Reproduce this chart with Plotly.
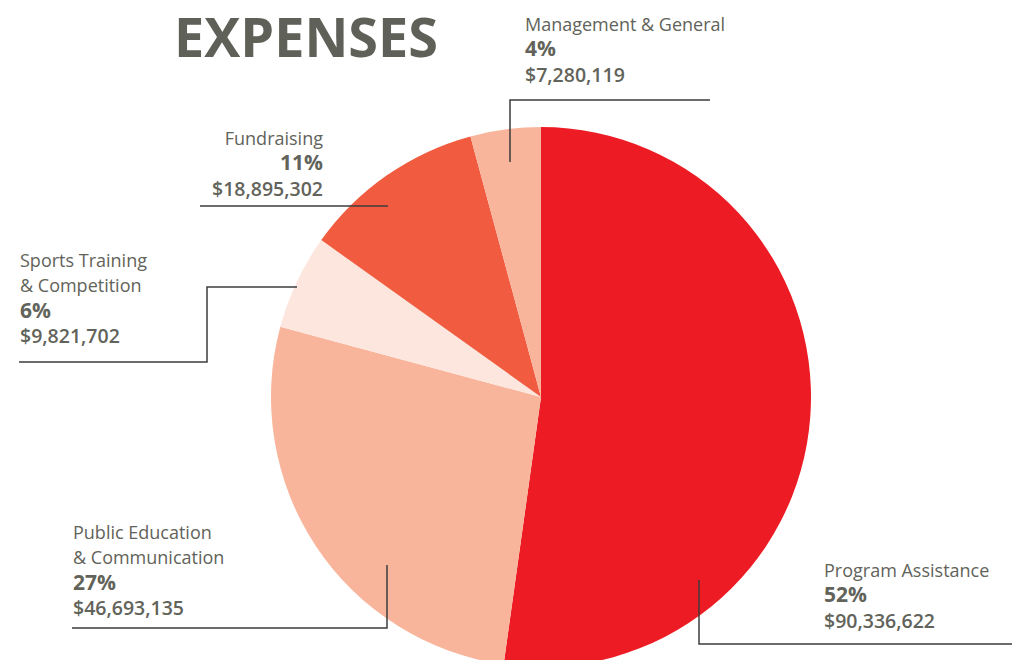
import plotly.graph_objects as go

# ---- data ----
categories = ["Program Assistance", "Public Education & Communication",
              "Sports Training & Competition", "Fundraising", "Management & General"]
amounts = [90336622, 46693135, 9821702, 18895302, 7280119]
colors = ["#ED1C24", "#F9B59C", "#FDE6DD", "#F15B40", "#F9B59C"]
title_text = "EXPENSES"

# ---- layout constants (pixels) ----
W, H = 1028, 680
CX, CY, R = 541, 397, 270
TEXT = "#62635A"
FONT = "Open Sans"

def px(x):
    return x / W

def py(y):
    return 1 - y / H

total = sum(amounts)
pcts = [round(100 * a / total) for a in amounts]

# label layout: (name lines, anchor x, xanchor, block centre y)
label_layout = {
    "Program Assistance": (["Program Assistance"], 822, "left", 596),
    "Public Education & Communication": (["Public Education", "& Communication"], 71, "left", 570),
    "Sports Training & Competition": (["Sports Training", "& Competition"], 18, "left", 298),
    "Fundraising": (["Fundraising"], 325, "right", 164),
    "Management & General": (["Management & General"], 523, "left", 50),
}

leader_lines = {
    "Program Assistance": [(699, 580), (699, 644), (1012, 644)],
    "Public Education & Communication": [(387, 565), (387, 628), (72, 628)],
    "Sports Training & Competition": [(297, 287), (207, 287), (207, 362), (19, 362)],
    "Fundraising": [(388, 206), (200, 206)],
    "Management & General": [(510, 162), (510, 100), (710, 100)],
}

fig = go.Figure()
fig.add_trace(go.Pie(
    labels=categories, values=amounts, sort=False, direction="clockwise", rotation=0,
    marker=dict(colors=colors, line=dict(width=0)), textinfo="none",
    hovertemplate="%{label}<br>%{percent}<br>$%{value:,}<extra></extra>",
    showlegend=False,
    domain=dict(x=[px(CX - R), px(CX + R)], y=[py(CY + R), py(CY - R)]),
))

annotations = [dict(text="<b>" + title_text + "</b>", x=px(306), y=py(36), xref="paper", yref="paper",
                    xanchor="center", yanchor="middle", showarrow=False,
                    font=dict(family=FONT, size=54, color="#5F6057"))]
shapes = []
for cat, amt, pct in zip(categories, amounts, pcts):
    lines, ax, xa, yc = label_layout[cat]
    parts = ['<span style="font-size:18px;font-weight:400">%s</span>' % ln.replace("&", "&amp;")
             for ln in lines]
    parts.append('<span style="font-size:21px;font-weight:700">%d%%</span>' % pct)
    parts.append('<span style="font-weight:600">${:,}</span>'.format(amt))
    annotations.append(dict(text="<br>".join(parts), x=px(ax), y=py(yc), xref="paper", yref="paper",
                            xanchor=xa, yanchor="middle", align=xa, showarrow=False,
                            font=dict(family=FONT, color=TEXT, size=19.5)))
    pts = leader_lines[cat]
    path = "M " + " L ".join("%f,%f" % (px(x), py(yy)) for x, yy in pts)
    shapes.append(dict(type="path", path=path, xref="paper", yref="paper",
                       line=dict(color="#3C3C3C", width=1.5)))

fig.update_layout(
    width=W, height=H, margin=dict(l=0, r=0, t=0, b=0),
    paper_bgcolor="white", plot_bgcolor="white",
    annotations=annotations, shapes=shapes,
)

fig.write_html("out.html", config={"displayModeBar": False}, post_script=(
    "document.documentElement.style.overflow='hidden';"
    "document.body.style.overflow='hidden';document.body.style.margin='0';"))
